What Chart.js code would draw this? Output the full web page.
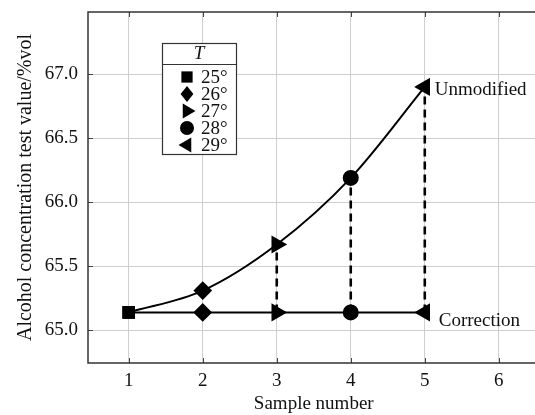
<!DOCTYPE html>
<html><head><meta charset="utf-8">
<script src="https://cdn.jsdelivr.net/npm/chart.js@4"></script>
<style>html,body{margin:0;padding:0;overflow:hidden;background:#fff;width:535px;height:415px}#wrap{width:550px;height:415px}</style>
</head><body><div id="wrap"><canvas id="c" width="550" height="415"></canvas></div>
<script>
const samples = [1, 2, 3, 4, 5];
const unmodified = [65.14, 65.31, 65.67, 66.19, 66.90];
const correction = [65.14, 65.14, 65.14, 65.14, 65.14];
const temps = ['25°', '26°', '27°', '28°', '29°'];
const pointStyles = ['rect', 'rectRot', 'triangle', 'circle', 'triangle'];
const pointRotations = [0, 0, 90, 0, -90];
const pointRadii = [7.5, 8, 8.5, 7, 8.5];
const dashedSamples = [3, 4, 5];
const xTicks = [1, 2, 3, 4, 5, 6];
const yTicks = [65.0, 65.5, 66.0, 66.5, 67.0];
const FONT = '"Liberation Serif","Times New Roman",serif';
const FS = 19;

const datasets = [
  { data: samples.map((s, i) => ({x: s, y: unmodified[i]})), borderColor: '#000', borderWidth: 2,
    tension: 0.4, cubicInterpolationMode: 'monotone', pointStyle: pointStyles, rotation: pointRotations,
    pointRadius: pointRadii, pointBackgroundColor: '#000', pointBorderColor: '#000', order: 1 },
  { data: samples.map((s, i) => ({x: s, y: correction[i]})), borderColor: '#000', borderWidth: 2,
    pointStyle: pointStyles, rotation: pointRotations,
    pointRadius: pointRadii, pointBackgroundColor: '#000', pointBorderColor: '#000', order: 1 }
];
dashedSamples.forEach(s => {
  const i = samples.indexOf(s);
  datasets.push({ data: [{x: s, y: correction[i]}, {x: s, y: unmodified[i]}], borderColor: '#000',
    borderWidth: 2.6, borderDash: [8, 5], pointRadius: 0, order: 2 });
});

function drawMarker(ctx, style, rot, r, x, y) {
  ctx.save(); ctx.translate(x, y); ctx.rotate(rot * Math.PI / 180); ctx.fillStyle = '#000';
  ctx.beginPath();
  if (style === 'rect') { const h = r * 0.75; ctx.rect(-h, -h, 2 * h, 2 * h); }
  else if (style === 'rectRot') { ctx.moveTo(0, -r); ctx.lineTo(r * 0.8, 0); ctx.lineTo(0, r); ctx.lineTo(-r * 0.8, 0); ctx.closePath(); }
  else if (style === 'triangle') { ctx.moveTo(0, -r); ctx.lineTo(r * 0.87, r * 0.5); ctx.lineTo(-r * 0.87, r * 0.5); ctx.closePath(); }
  else { ctx.arc(0, 0, r, 0, Math.PI * 2); }
  ctx.fill(); ctx.restore();
}

const deco = {
  id: 'deco',
  afterDraw(chart) {
    const ctx = chart.ctx, a = chart.chartArea, xs = chart.scales.x, ys = chart.scales.y;
    ctx.save();
    ctx.strokeStyle = '#444'; ctx.lineWidth = 1;
    xTicks.forEach(v => { const px = Math.round(xs.getPixelForValue(v)) + 0.5;
      ctx.beginPath(); ctx.moveTo(px, a.bottom); ctx.lineTo(px, a.bottom - 5); ctx.moveTo(px, a.top); ctx.lineTo(px, a.top + 5); ctx.stroke(); });
    yTicks.forEach(v => { const py = Math.round(ys.getPixelForValue(v)) + 0.5;
      ctx.beginPath(); ctx.moveTo(a.left, py); ctx.lineTo(a.left + 5, py); ctx.stroke(); });
    ctx.strokeStyle = '#333'; ctx.lineWidth = 1.5;
    ctx.strokeRect(a.left, a.top, a.right - a.left, a.bottom - a.top);
    ctx.fillStyle = '#111'; ctx.font = FS + 'px ' + FONT; ctx.textBaseline = 'middle'; ctx.textAlign = 'left';
    const x5 = xs.getPixelForValue(samples[samples.length - 1]);
    ctx.fillText('Unmodified', x5 + 10, ys.getPixelForValue(unmodified[unmodified.length - 1]) + 3);
    ctx.fillText('Correction', x5 + 14, ys.getPixelForValue(correction[correction.length - 1]) + 9);
    const L = 162, T = 43, W = 74, H = 111;
    ctx.fillStyle = '#fff'; ctx.fillRect(L, T, W, H);
    ctx.strokeStyle = '#333'; ctx.lineWidth = 1.2; ctx.strokeRect(L + 0.5, T + 0.5, W, H);
    ctx.beginPath(); ctx.moveTo(L, T + 21.5); ctx.lineTo(L + W, T + 21.5); ctx.stroke();
    ctx.fillStyle = '#111'; ctx.font = 'italic ' + FS + 'px ' + FONT; ctx.textAlign = 'center';
    ctx.fillText('T', L + W / 2, T + 11);
    ctx.font = FS + 'px ' + FONT; ctx.textAlign = 'left';
    temps.forEach((t, i) => {
      const yy = T + 34 + i * 17;
      drawMarker(ctx, pointStyles[i], pointRotations[i], pointRadii[i], L + 25, yy);
      ctx.fillStyle = '#111'; ctx.fillText(t, L + 39, yy + 1);
    });
    ctx.restore();
  }
};

new Chart(document.getElementById('c'), {
  type: 'line',
  data: { datasets },
  options: {
    responsive: false, animation: false, devicePixelRatio: 1,
    layout: { padding: { left: 0, top: 12, right: 4, bottom: 0 } },
    plugins: { legend: { display: false }, tooltip: { enabled: false } },
    scales: {
      x: { type: 'linear', min: 0.45, max: 6.55,
        afterBuildTicks: s => { s.ticks = xTicks.map(v => ({value: v})); },
        afterFit: s => { s.height = 52; s.paddingLeft = 0; s.paddingRight = 0; },
        grid: { color: '#cfcfcf', lineWidth: 1, drawTicks: false },
        border: { display: false },
        ticks: { color: '#111', font: { family: FONT, size: FS }, padding: 7, maxRotation: 0 },
        title: { display: true, text: 'Sample number', color: '#111', font: { family: FONT, size: FS }, padding: { top: 0, bottom: 0 } } },
      y: { type: 'linear', min: 64.745, max: 67.485,
        afterBuildTicks: s => { s.ticks = yTicks.map(v => ({value: v})); },
        afterFit: s => { s.width = 88; s.paddingTop = 0; s.paddingBottom = 0; },
        grid: { color: '#cfcfcf', lineWidth: 1, drawTicks: false },
        border: { display: false },
        ticks: { color: '#111', font: { family: FONT, size: FS }, padding: 10, callback: v => Number(v).toFixed(1) },
        title: { display: true, text: 'Alcohol concentration test value/%vol', color: '#111', font: { family: FONT, size: 20 }, padding: { top: 14, bottom: 0 } } }
    }
  },
  plugins: [deco]
});
</script></body></html>
